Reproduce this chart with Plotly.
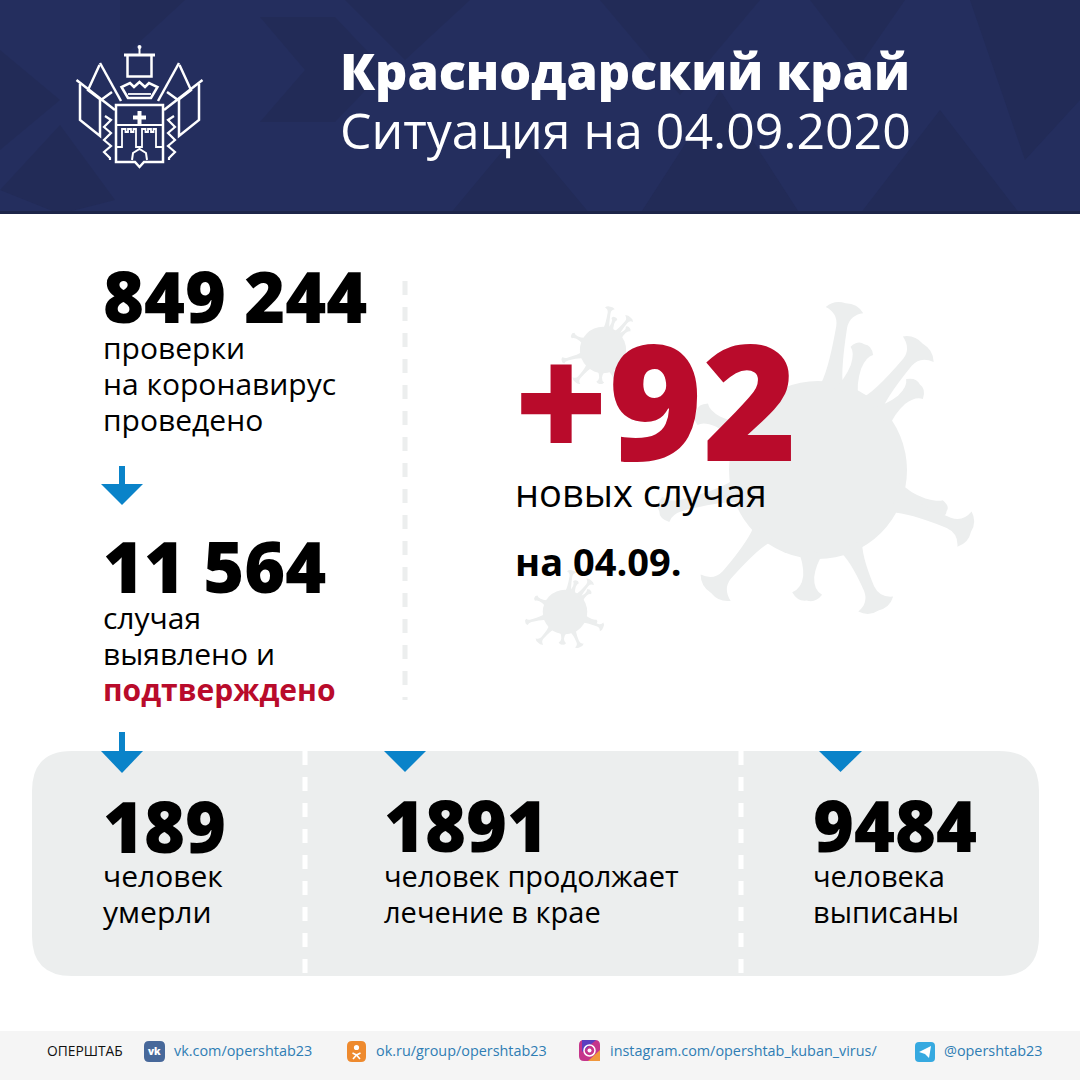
import math
import plotly.graph_objects as go

# values and captions
title_lines = ["Краснодарский край", "Ситуация на 04.09.2020"]
tests_total = "849 244"
tests_caption = ["проверки", "на коронавирус", "проведено"]
cases_total = "11 564"
cases_caption = ["случая", "выявлено и"]
cases_caption_red = "подтверждено"
new_cases = "+92"
new_cases_caption = "новых случая"
new_cases_date = "на 04.09."
panel_numbers = ["189", "1891", "9484"]
panel_line1 = ["человек", "человек продолжает", "человека"]
panel_line2 = ["умерли", "лечение в крае", "выписаны"]
footer_name = "ОПЕРШТАБ"
footer_links = ["vk.com/opershtab23", "ok.ru/group/opershtab23",
                "instagram.com/opershtab_kuban_virus/", "@opershtab23"]

# virus spikes, measured off the big one
spike_angles = [-80.6, -69.8, -50.3, -40, 17.7, 22, 66.7, 95, 131, 165.5, 205.8]
spike_lengths = [165, 130, 160, 129, 131, 161, 149, 127, 159, 160, 131]
spike_caps = [19, 12, 20, 13, 9, 19, 19, 15, 20, 13, 12]

NAVY = "#242e5e"
NAVY_DARK = "#222b57"
GREY = "#eceeee"
BLUE = "#0a83c9"
RED = "#b90b2b"
LINK = "#2f7db4"
FONT = "Open Sans"

shapes = []
annotations = []


def poly(points, fill, line=None, width=0):
    d = "M" + " L".join(f"{x},{y}" for x, y in points) + " Z"
    shapes.append(dict(type="path", path=d, fillcolor=fill, layer="below",
                       line=dict(color=line or fill, width=width)))


def stroke(points, width=2.5, close=False):
    d = "M" + " L".join(f"{x},{y}" for x, y in points) + (" Z" if close else "")
    shapes.append(dict(type="path", path=d, layer="below",
                       line=dict(color="white", width=width)))


def round_rect(x0, y0, x1, y1, r, fill):
    d = (f"M{x0+r},{y0} L{x1-r},{y0} Q{x1},{y0} {x1},{y0+r} L{x1},{y1-r} Q{x1},{y1} {x1-r},{y1} "
         f"L{x0+r},{y1} Q{x0},{y1} {x0},{y1-r} L{x0},{y0+r} Q{x0},{y0} {x0+r},{y0} Z")
    shapes.append(dict(type="path", path=d, fillcolor=fill, layer="below", line=dict(width=0)))


def rect(x0, y0, x1, y1, fill):
    shapes.append(dict(type="rect", x0=x0, y0=y0, x1=x1, y1=y1, fillcolor=fill,
                       layer="below", line=dict(width=0)))


def circle(cx, cy, r, fill):
    shapes.append(dict(type="circle", x0=cx-r, y0=cy-r, x1=cx+r, y1=cy+r, fillcolor=fill,
                       layer="below", line=dict(width=0)))


def text(x, y, s, size, color="black", weight=400, anchor="left"):
    annotations.append(dict(x=x, y=y, text=s, showarrow=False, xanchor=anchor, yanchor="middle",
                            borderpad=0, font=dict(family=FONT, size=size, color=color, weight=weight)))


def virus(cx, cy, scale, rot=0):
    r = 89 * scale
    circle(cx, cy, r, GREY)
    for ang, length, cap in zip(spike_angles, spike_lengths, spike_caps):
        a = math.radians(ang + rot)
        ux, uy = math.cos(a), math.sin(a)

        def pt(u, v):
            return f"{cx + (u*ux - v*uy)*scale:.1f},{cy + (u*uy + v*ux)*scale:.1f}"
        neck = length - 20
        d = (f"M{pt(82, 13)} Q{pt(94, 6)} {pt(neck, 5.5)} Q{pt(length-7, 6)} {pt(length-3, cap)} "
             f"Q{pt(length+6, cap*0.6)} {pt(length+4, 0)} Q{pt(length+6, -cap*0.6)} {pt(length-3, -cap)} "
             f"Q{pt(length-7, -6)} {pt(neck, -5.5)} Q{pt(94, -6)} {pt(82, -13)} Z")
        shapes.append(dict(type="path", path=d, fillcolor=GREY, layer="below", line=dict(width=0)))


def arrow(cx, top, neck, tip):
    rect(cx-3, top, cx+3, neck, BLUE)
    poly([(cx-21, neck), (cx+21, neck), (cx, tip)], BLUE)


def logo_side(sign):
    # one half of the coat of arms, sign flips it around the shield axis
    m = lambda pts: [(139.5 + sign*(139.5 - x), y) for x, y in pts]
    stroke(m([(76.5, 80), (115, 110)]))
    stroke(m([(80, 84), (80, 120), (100, 136), (100, 100)]))
    stroke(m([(100, 63), (121, 101)]))
    stroke(m([(99.5, 65), (88, 90), (101, 100), (112, 92)]))
    stroke(m([(105, 116), (111, 120), (104, 127), (111, 133), (104, 140), (111, 146),
              (104, 152), (110, 158), (110, 160)]), width=2.2)


# header
rect(0, 0, 1080, 214, NAVY)
for pts in [[(260, 17), (335, 17), (385, 70), (335, 122), (260, 122), (305, 70)],
            [(120, 0), (185, 0), (120, 60)],
            [(0, 50), (60, 100), (0, 150)],
            [(60, 125), (115, 200), (60, 214), (0, 190)],
            [(345, 0), (470, 0), (405, 60)],
            [(600, 0), (760, 0), (680, 95)],
            [(810, 0), (905, 0), (860, 65)],
            [(970, 0), (1080, 0), (1080, 100), (1025, 160)],
            [(450, 214), (520, 130), (590, 214)],
            [(640, 214), (720, 90), (800, 214)],
            [(860, 214), (940, 110), (1020, 214)]]:
    poly(pts, NAVY_DARK)
rect(0, 211, 1080, 214, "#1d2549")

# coat of arms
logo_side(1)
logo_side(-1)
rect(124, 53.5, 155, 56.5, "white")
stroke([(127.5, 55), (127.5, 76.5), (151.5, 76.5), (151.5, 55)])
stroke([(139.5, 48), (139.5, 54)], width=2)
circle(139.5, 47, 2, "white")
stroke([(128, 98), (121.5, 87), (130, 83), (134, 87), (139.5, 82), (145, 87), (149, 83),
        (157.5, 87), (151, 98)], close=True)
stroke([(128, 94), (151, 94)], width=1.8)
stroke([(116, 105), (163, 105), (163, 162), (144, 162), (139.5, 167), (135, 162), (116, 162)], close=True)
stroke([(139.5, 111), (139.5, 124)], width=4)
stroke([(133, 117.5), (146, 117.5)], width=4)
stroke([(116, 125), (163, 125)], width=1.8)
# wall and towers
stroke([(116, 147), (122, 147), (122, 129), (125.5, 129), (125.5, 132), (128, 132), (128, 129),
        (131, 129), (131, 132), (133.5, 132), (133.5, 129), (136, 129), (136, 147), (142, 147),
        (142, 129), (145.5, 129), (145.5, 132), (148, 132), (148, 129), (151, 129), (151, 132),
        (153.5, 132), (153.5, 129), (156, 129), (156, 147), (163, 147)], width=1.8)
stroke([(132, 160), (133, 153), (139.5, 149), (146, 153), (147, 160)], width=2)

# big background viruses first so the text stays on top
virus(818, 470, 1.0)
virus(603, 350, 0.26, 0)
virus(565, 612, 0.25, 0)

# left column dashed separator
shapes.append(dict(type="line", x0=405, x1=405, y0=281, y1=700, layer="below",
                   line=dict(color=GREY, width=5, dash="14px,12px")))

# grey panel
round_rect(32, 751, 1039, 976, 40, GREY)
for x in [305, 741]:
    shapes.append(dict(type="line", x0=x, x1=x, y0=751, y1=976, layer="below",
                       line=dict(color="white", width=5, dash="14px,12px")))

arrow(122, 466, 484, 505)
arrow(122, 732, 751, 773)
poly([(384, 751), (426, 751), (405, 772)], BLUE)
poly([(819, 751), (862, 751), (840.5, 772)], BLUE)

# footer
rect(0, 1031, 1080, 1080, "#f5f5f5")
round_rect(144, 1041, 165, 1062, 5, "#47689a")
round_rect(347, 1041, 366, 1062, 5, "#ee8a2e")
round_rect(579, 1040, 600, 1061, 5, "#c5358b")
poly([(582, 1040), (596, 1040), (582, 1052)], "#5b3fc0")
poly([(588, 1061), (600, 1061), (600, 1050)], "#f0973c")
round_rect(915, 1042, 935, 1062, 4, "#36a9e0")
poly([(919, 1052), (931, 1046), (929, 1058), (925, 1054)], "white")
shapes.append(dict(type="circle", x0=584, y0=1045, x1=595, y1=1056, layer="below",
                   line=dict(color="white", width=1.5)))
circle(589.5, 1050.5, 2, "white")
circle(356.5, 1047.5, 2.6, "white")
stroke([(352.5, 1053), (356.5, 1055), (360.5, 1053)], width=1.6)
stroke([(353, 1059), (356.5, 1055), (360, 1059)], width=1.6)
text(154.5, 1051, "vk", 10, "white", 800, "center")

# texts
text(339, 70, title_lines[0], 50.3, "white", 800)
text(339, 130, title_lines[1], 50, "white", 400)

text(102, 296, tests_total, 70, "black", 800)
for y, s in zip([347, 383, 419], tests_caption):
    text(102, y, s, 30)
text(102, 566, cases_total, 70, "black", 800)
for y, s in zip([617, 653], cases_caption):
    text(102, y, s, 30)
text(102, 689, cases_caption_red, 30, RED, 700)

text(513, 398, new_cases, 161, RED, 800)
text(514, 492, new_cases_caption, 38)
text(514, 561, new_cases_date, 38, "black", 700)

for x, y, size, num, l1, l2 in zip([102, 383, 812], [826, 825, 825], [30, 29, 29],
                                   panel_numbers, panel_line1, panel_line2):
    text(x, y, num, 70, "black", 800)
    text(x, 875, l1, size)
    text(x, 911, l2, size)

text(45.5, 1050, footer_name, 13.8, "#111111", 400)
for x, s in zip([173, 375, 609, 943], footer_links):
    text(x, 1050, s, 14.4, LINK)

fig = go.Figure()
fig.update_layout(width=1080, height=1080, margin=dict(l=0, r=0, t=0, b=0), paper_bgcolor="white",
                  plot_bgcolor="white", shapes=shapes, annotations=annotations, showlegend=False,
                  xaxis=dict(range=[0, 1080], visible=False, fixedrange=True),
                  yaxis=dict(range=[1080, 0], visible=False, fixedrange=True))
# default page body has an 8px margin, drop it so pixels line up with the reference
fig.write_html("out.html", config=dict(displayModeBar=False),
               post_script="document.body.style.margin='0';document.body.style.overflow='hidden';")
